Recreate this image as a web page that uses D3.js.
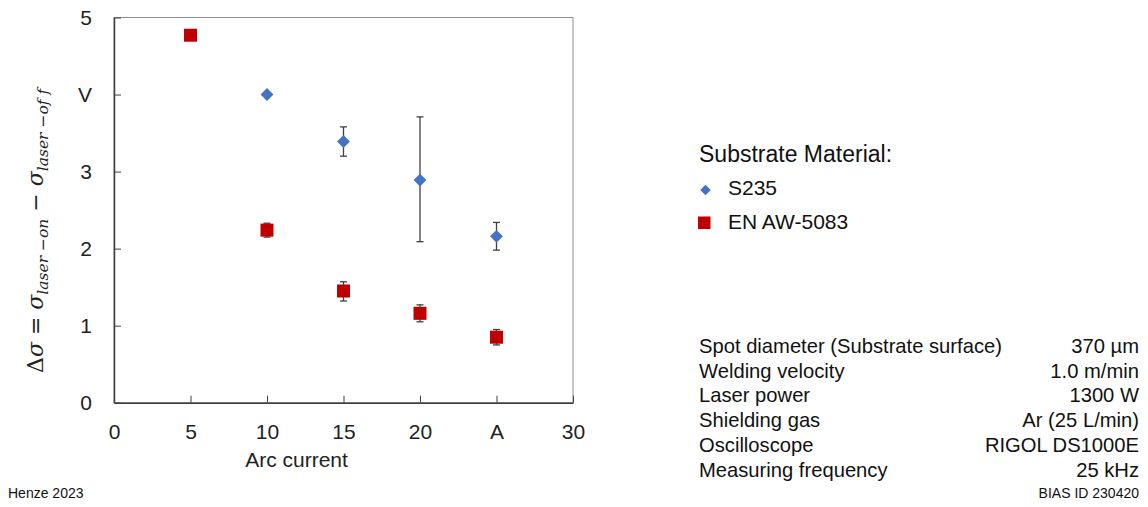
<!DOCTYPE html>
<html><head><meta charset="utf-8">
<script src="https://cdn.jsdelivr.net/npm/d3@7"></script>
<style>body{margin:0;background:#fff}svg{display:block;font-family:"Liberation Sans",Arial,sans-serif}</style>
</head><body>
<svg id="c" width="1148" height="507"></svg>
<script>
const xTicks = [0,5,10,15,20,25,30];
const xTickLabels = ["0","5","10","15","20","A","30"];
const yTicks = [0,1,2,3,4,5];
const yTickLabels = ["0","1","2","3","V","5"];

const s235X = [10,15,20,25];
const s235Y = [4.0,3.39,2.89,2.16];
const s235Lo = [4.0,3.20,2.09,1.98];
const s235Hi = [4.0,3.58,3.71,2.34];

const awX = [5,10,15,20,25];
const awY = [4.77,2.24,1.45,1.16,0.85];
const awLo = [4.77,2.15,1.32,1.05,0.75];
const awHi = [4.77,2.33,1.57,1.27,0.95];

const legendTitle = "Substrate Material:";
const seriesNames = ["S235","EN AW-5083"];
const paramNames = ["Spot diameter (Substrate surface)","Welding velocity","Laser power","Shielding gas","Oscilloscope","Measuring frequency"];
const paramValues = ["370 µm","1.0 m/min","1300 W","Ar (25 L/min)","RIGOL DS1000E","25 kHz"];

const svg = d3.select("#c");
const L=114,R=573,T=17.5,B=402.7;
const x = d3.scaleLinear().domain([0,30]).range([L,R]);
const y = d3.scaleLinear().domain([0,5]).range([B,T]);

// box
svg.append("rect").attr("x",L).attr("y",T).attr("width",R-L).attr("height",B-T)
  .attr("fill","none").attr("stroke","#8c8c8c").attr("stroke-width",1);

const xAxis = d3.axisBottom(x).tickValues(xTicks).tickFormat((d,i)=>xTickLabels[i]).tickSizeInner(-7).tickSizeOuter(0).tickPadding(21);
const gx = svg.append("g").attr("transform",`translate(0,${B})`).call(xAxis);
gx.select(".domain").attr("stroke","#404040").attr("stroke-width",1.5);
gx.selectAll(".tick line").attr("stroke","#404040");
gx.selectAll("text").attr("font-size",21).attr("fill","#222").attr("font-family","Liberation Sans, Arial, sans-serif");

const yAxis = d3.axisLeft(y).tickValues(yTicks).tickFormat((d,i)=>yTickLabels[i]).tickSizeInner(-7).tickSizeOuter(0).tickPadding(22);
const gy = svg.append("g").attr("transform",`translate(${L},0)`).call(yAxis);
gy.select(".domain").attr("stroke","#404040").attr("stroke-width",1.5);
gy.selectAll(".tick line").attr("stroke","#404040");
gy.selectAll("text").attr("font-size",21).attr("fill","#222").attr("font-family","Liberation Sans, Arial, sans-serif");

// error bars
function errBars(xs,lo,hi){
  const g = svg.append("g").attr("stroke","#404040").attr("stroke-width",1.3);
  xs.forEach((xv,i)=>{
    if(hi[i]-lo[i] < 0.01) return;
    g.append("line").attr("x1",x(xv)).attr("x2",x(xv)).attr("y1",y(lo[i])).attr("y2",y(hi[i]));
    [lo[i],hi[i]].forEach(v=>g.append("line").attr("x1",x(xv)-3.5).attr("x2",x(xv)+3.5).attr("y1",y(v)).attr("y2",y(v)));
  });
}
errBars(s235X,s235Lo,s235Hi);
errBars(awX,awLo,awHi);

const diamond = d3.symbol().type(d3.symbolDiamond2).size(105);
svg.append("g").selectAll("path").data(s235X).join("path")
  .attr("d",diamond).attr("transform",(d,i)=>`translate(${x(d)},${y(s235Y[i])})`).attr("fill","#4472C4");
svg.append("g").selectAll("rect").data(awX).join("rect")
  .attr("x",(d)=>x(d)-6.5).attr("y",(d,i)=>y(awY[i])-6.5).attr("width",13).attr("height",13).attr("fill","#C00000");

// axis titles
svg.append("text").attr("x",296.5).attr("y",467).attr("text-anchor","middle").attr("font-size",21).attr("fill","#222").text("Arc current");

const yl = svg.append("text").attr("transform","translate(43,373) rotate(-90)")
  .attr("font-family","DejaVu Serif, serif").attr("font-size",22).attr("fill","#222");
yl.append("tspan").attr("font-style","normal").text("Δ");
yl.append("tspan").attr("font-style","italic").text("σ");
yl.append("tspan").text(" = ");
yl.append("tspan").attr("font-style","italic").text("σ");
yl.append("tspan").attr("font-style","italic").attr("font-size",15.5).attr("dy",5).text("laser −on");
yl.append("tspan").attr("dy",-5).text(" − ");
yl.append("tspan").attr("font-style","italic").text("σ");
yl.append("tspan").attr("font-style","italic").attr("font-size",15.5).attr("dy",5).text("laser −of f");

// legend
svg.append("text").attr("x",699).attr("y",162).attr("font-size",23).attr("fill","#111").text(legendTitle);
svg.append("path").attr("d",d3.symbol().type(d3.symbolDiamond2).size(70)).attr("transform","translate(705.5,190)").attr("fill","#4472C4");
svg.append("rect").attr("x",698).attr("y",216.5).attr("width",12.5).attr("height",12.5).attr("fill","#C00000");
svg.append("text").attr("x",728).attr("y",195).attr("font-size",21).attr("fill","#111").text(seriesNames[0]);
svg.append("text").attr("x",728).attr("y",229).attr("font-size",21).attr("fill","#111").text(seriesNames[1]);

// parameter table
const rowY = d3.scaleLinear().domain([0,5]).range([352.7,476.7]);
paramNames.forEach((n,i)=>{
  svg.append("text").attr("x",699).attr("y",rowY(i)).attr("font-size",20.2).attr("fill","#111").text(n);
  svg.append("text").attr("x",1139).attr("y",rowY(i)).attr("text-anchor","end").attr("font-size",20.2).attr("fill","#111").text(paramValues[i]);
});
svg.append("text").attr("x",8).attr("y",498).attr("font-size",14).attr("fill","#111").text("Henze 2023");
svg.append("text").attr("x",1139).attr("y",498).attr("text-anchor","end").attr("font-size",14).attr("fill","#111").text("BIAS ID 230420");
</script>
</body></html>
